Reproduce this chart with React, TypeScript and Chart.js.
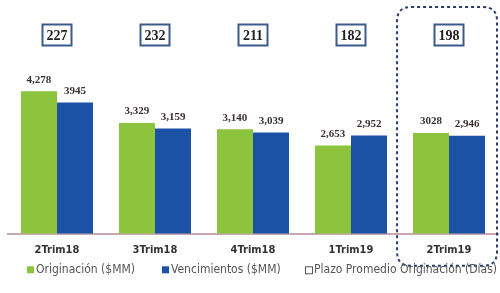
import React, { useEffect, useRef } from "react";
import { Chart, registerables } from "chart.js";

Chart.register(...registerables);

const categories = ["2Trim18", "3Trim18", "4Trim18", "1Trim19", "2Trim19"];
const originacion = [4278, 3329, 3140, 2653, 3028];
const vencimientos = [3945, 3159, 3039, 2952, 2946];
const originacionLabels = ["4,278", "3,329", "3,140", "2,653", "3028"];
const vencimientosLabels = ["3945", "3,159", "3,039", "2,952", "2,946"];
const plazoDias = [227, 232, 211, 182, 198];
const legendItems = ["Originación ($MM)", "Vencimientos ($MM)", "Plazo Promedio Originación (Días)"];

const GREEN = "#8cc43e";
const BLUE = "#1c52a6";
const FONT = "'DejaVu Sans Condensed', 'Liberation Sans Narrow', sans-serif";

const overlayPlugin = {
  id: "overlay",
  afterDatasetsDraw(chart: any) {
    const ctx = chart.ctx;
    const x = chart.scales.x;
    const area = chart.chartArea;
    ctx.save();
    [0, 1].forEach((di) => {
      const meta = chart.getDatasetMeta(di);
      const labels = di === 0 ? originacionLabels : vencimientosLabels;
      meta.data.forEach((bar: any, i: number) => {
        ctx.font = "bold 11px 'Liberation Serif', serif";
        ctx.fillStyle = "#3a3030";
        ctx.textAlign = "center";
        ctx.textBaseline = "bottom";
        ctx.fillText(labels[i], bar.x, bar.y - 6);
      });
    });
    plazoDias.forEach((d, i) => {
      const cx = x.getPixelForValue(i);
      const cy = area.top + 1;
      const w = 29, h = 21;
      ctx.fillStyle = "#ffffff";
      ctx.fillRect(cx - w / 2, cy - h / 2, w, h);
      ctx.strokeStyle = "#3d5a8c";
      ctx.lineWidth = 2;
      ctx.strokeRect(cx - w / 2, cy - h / 2, w, h);
      ctx.font = "bold 14px 'Liberation Serif', serif";
      ctx.fillStyle = "#222";
      ctx.textAlign = "center";
      ctx.textBaseline = "middle";
      ctx.fillText(String(d), cx, cy + 1);
    });
    const last = categories.length - 1;
    const cxl = x.getPixelForValue(last);
    const step = x.getPixelForValue(1) - x.getPixelForValue(0);
    const left = cxl - step * 0.53;
    const right = cxl + step * 0.49;
    const top = 7;
    const bottom = area.bottom + 32;
    const r = 14;
    ctx.strokeStyle = "#2a3a6e";
    ctx.lineWidth = 2;
    ctx.setLineDash([3, 3]);
    ctx.beginPath();
    ctx.moveTo(left + r, top);
    ctx.lineTo(right - r, top);
    ctx.quadraticCurveTo(right, top, right, top + r);
    ctx.lineTo(right, bottom - r);
    ctx.quadraticCurveTo(right, bottom, right - r, bottom);
    ctx.lineTo(left + r, bottom);
    ctx.quadraticCurveTo(left, bottom, left, bottom - r);
    ctx.lineTo(left, top + r);
    ctx.quadraticCurveTo(left, top, left + r, top);
    ctx.stroke();
    ctx.setLineDash([]);

    // legend
    const colors = [GREEN, BLUE, null];
    const boxX = [27, 162, 305];
    const ly = area.bottom + 36;
    ctx.font = "12px " + FONT;
    ctx.textAlign = "left";
    ctx.textBaseline = "middle";
    legendItems.forEach((t, i) => {
      const bx = boxX[i];
      if (colors[i]) {
        ctx.fillStyle = colors[i] as string;
        ctx.fillRect(bx, ly - 3.5, 7, 7);
      } else {
        ctx.fillStyle = "#fff";
        ctx.fillRect(bx, ly - 3.5, 7, 7);
        ctx.strokeStyle = "#555";
        ctx.lineWidth = 1;
        ctx.strokeRect(bx + 0.5, ly - 3, 7, 7);
      }
      ctx.fillStyle = "#555";
      ctx.fillText(t, bx + 9, ly);
    });
    ctx.restore();
  },
};

export default function App() {
  const ref = useRef<HTMLCanvasElement>(null);
  useEffect(() => {
    document.body.style.margin = "0";
    const chart = new Chart(ref.current!, {
      type: "bar",
      data: {
        labels: categories,
        datasets: [
          { label: legendItems[0], data: originacion, backgroundColor: GREEN, borderWidth: 0 },
          { label: legendItems[1], data: vencimientos, backgroundColor: BLUE, borderWidth: 0 },
        ],
      },
      options: {
        animation: false,
        responsive: false,
        layout: { padding: { left: 8, right: 2, top: 34, bottom: 34 } },
        datasets: { bar: { barPercentage: 1, categoryPercentage: 0.735 } },
        scales: {
          x: {
            grid: { display: false },
            border: { display: true, color: "#c8a8b2", width: 2 },
            ticks: { color: "#333", font: { size: 11, weight: "bold", family: FONT }, padding: 2 },
          },
          y: { display: false, min: 0, max: 6000 },
        },
        plugins: {
          tooltip: { enabled: false },
          legend: { display: false },
        },
      },
      plugins: [overlayPlugin],
    });
    return () => chart.destroy();
  }, []);
  return (
    <div style={{ position: "absolute", left: 0, top: 0, width: 500, height: 293, background: "#fff" }}>
      <canvas ref={ref} width={500} height={293} />
    </div>
  );
}
